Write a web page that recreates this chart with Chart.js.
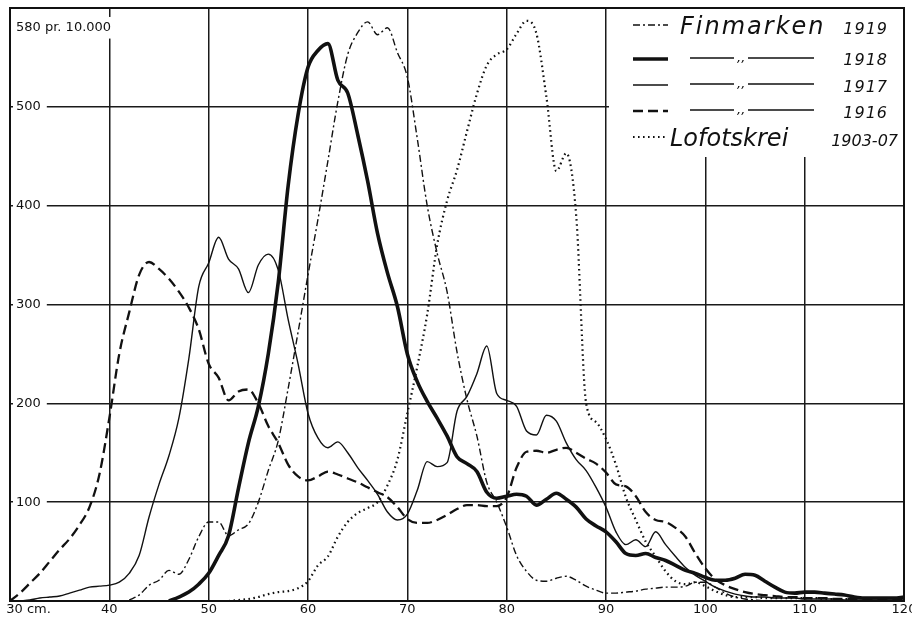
<!DOCTYPE html>
<html>
<head>
<meta charset="utf-8">
<title>Finmarken 1916-1919 / Lofotskrei 1903-07</title>
<script src="https://cdn.jsdelivr.net/npm/chart.js@4.4.1/dist/chart.umd.min.js"></script>
<style>
  body { margin: 0; background: #fff; }
  canvas { display: block; }
</style>
</head>
<body>
<canvas id="chart" width="912" height="620"></canvas>
<script>
// length in cm (x axis)
const lengths = [
  30, 31, 32, 33, 34, 35, 36, 37, 38, 39,
  40, 41, 42, 43, 44, 45, 46, 47, 48, 49,
  50, 51, 52, 53, 54, 55, 56, 57, 58, 59,
  60, 61, 62, 63, 64, 65, 66, 67, 68, 69,
  70, 71, 72, 73, 74, 75, 76, 77, 78, 79,
  80, 81, 82, 83, 84, 85, 86, 87, 88, 89,
  90, 91, 92, 93, 94, 95, 96, 97, 98, 99,
  100, 101, 102, 103, 104, 105, 106, 107, 108, 109,
  110, 111, 112, 113, 114, 115, 116, 117, 118, 119,
  120
];

// per 10.000 fish
const finmarken1919 = [
  null, null, null, null, null, null, null, null, null, null,
  null, null, 1, 6, 16, 21, 31, 27, 42, 65,
  80, 80, 66, 72, 78, 100, 132, 162, 215, 272,
  330, 386, 445, 505, 553, 575, 586, 573, 580, 555,
  530, 468, 400, 352, 313, 252, 204, 167, 120, 100,
  75, 46, 30, 21, 20, 23, 25, 21, 15, 11,
  8, 8, 9, 10, 12, 13, 14, 14, 15, 19,
  19, 14, 8, 4, 2, 1, 0, null, null, null,
  null, null, null, null, null, null, null, null, null, null,
  null
];

const finmarken1918 = [
  null, null, null, null, null, null, null, null, null, null,
  null, null, null, null, null, null, 0, 4, 9, 17,
  28, 46, 66, 114, 160, 197, 250, 322, 420, 492,
  540, 557, 564, 527, 514, 472, 425, 372, 332, 298,
  250, 222, 202, 185, 167, 146, 139, 131, 110, 104,
  106, 108, 106, 97, 103, 109, 103, 95, 83, 76,
  70, 60, 48, 46, 48, 44, 41, 36, 31, 28,
  24, 21, 21, 23, 27, 26, 20, 14, 9, 8,
  9, 9, 8, 7, 6, 4, 3, 3, 3, 3,
  4
];

const finmarken1917 = [
  null, 0, 1, 3, 4, 5, 8, 11, 14, 15,
  16, 19, 28, 46, 85, 118, 147, 185, 245, 318,
  342, 368, 346, 336, 312, 340, 351, 335, 285, 240,
  190, 165, 155, 161, 150, 135, 122, 108, 90, 82,
  88, 112, 141, 136, 140, 192, 207, 230, 258, 210,
  203, 197, 172, 168, 188, 182, 160, 143, 132, 115,
  95, 70, 57, 62, 55, 70, 57, 45, 34, 26,
  20, 14, 10, 7, 5, 4, 4, 3, 3, 3,
  2, 2, 2, 2, 1, 1, 1, 1, 1, 1,
  1
];

const finmarken1916 = [
  0, 8, 18, 28, 40, 52, 63, 77, 95, 128,
  185, 250, 292, 330, 343, 336, 326, 313, 297, 275,
  240, 226, 203, 212, 214, 200, 177, 160, 138, 126,
  122, 126, 131, 128, 124, 120, 115, 110, 105, 95,
  83, 79, 79, 82, 87, 93, 97, 97, 96, 96,
  105, 135, 151, 152, 150, 153, 155, 150, 144, 139,
  130, 118, 116, 106, 90, 82, 80, 74, 65, 48,
  33, 22, 16, 12, 9, 7, 6, 5, 4, 4,
  3, 3, 3, 2, 2, 2, 2, 1, 1, 1,
  1
];

const lofotskrei = [
  null, null, null, null, null, null, null, null, null, null,
  null, null, null, null, null, null, null, null, null, null,
  null, null, 0, 1, 2, 4, 7, 9, 10, 13,
  20, 36, 45, 65, 80, 89, 94, 100, 117, 143,
  190, 237, 290, 360, 405, 436, 475, 513, 542, 553,
  558, 574, 587, 574, 510, 435, 453, 390, 200, 181,
  164, 138, 105, 82, 60, 45, 30, 20, 17, 19,
  15, 10, 6, 4, 4, 4, 3, 3, 3, 3,
  3, 3, 2, 2, 2, 2, null, null, null, null,
  null
];

const legendNames = ['Finmarken', ',,', ',,', ',,', 'Lofotskrei'];
const legendYears = ['1919', '1918', '1917', '1916', '1903-07'];

const yTickValues = [100, 200, 300, 400, 500, 580];
const yTickLabels = ['100', '200', '300', '400', '500', '580 pr. 10.000'];

function toPoints(values) {
  return lengths
    .map((x, i) => ({ x: x, y: values[i] }))
    .filter(p => p.y !== null);
}

Chart.defaults.font.family = 'DejaVu Sans';
Chart.defaults.color = '#111';

const paperLegend = {
  id: 'paperLegend',
  afterDatasetsDraw(chart) {
    const ctx = chart.ctx;
    const area = chart.chartArea;
    const lineY = [25, 59, 85, 111, 137];
    const baseY = [34, 65, 92, 118, 146];

    ctx.save();
    ctx.fillStyle = '#fff';
    ctx.fillRect(609, area.top + 1, area.right - 610, 148);

    chart.data.datasets.forEach((ds, i) => {
      ctx.strokeStyle = ds.borderColor;
      ctx.lineWidth = ds.borderWidth;
      ctx.setLineDash(ds.borderDash || []);
      ctx.beginPath();
      ctx.moveTo(633, lineY[i]);
      ctx.lineTo(668, lineY[i]);
      ctx.stroke();

      ctx.fillStyle = '#111';
      ctx.textBaseline = 'alphabetic';
      if (legendNames[i] === ',,') {
        // ditto row
        ctx.setLineDash([]);
        ctx.lineWidth = 1.3;
        ctx.beginPath();
        ctx.moveTo(690, lineY[i] - 1);
        ctx.lineTo(734, lineY[i] - 1);
        ctx.moveTo(748, lineY[i] - 1);
        ctx.lineTo(814, lineY[i] - 1);
        ctx.stroke();
        ctx.font = 'italic 13px "DejaVu Sans"';
        ctx.textAlign = 'left';
        ctx.letterSpacing = '0px';
        ctx.fillText(legendNames[i], 737, lineY[i] + 3);
      } else {
        ctx.font = 'italic 24px "DejaVu Sans"';
        ctx.textAlign = 'left';
        ctx.letterSpacing = i === 0 ? '2px' : '0px';
        ctx.fillText(legendNames[i], i === 0 ? 680 : 670, baseY[i]);
      }
      ctx.font = 'italic 16px "DejaVu Sans"';
      ctx.textAlign = 'right';
      ctx.letterSpacing = i === 4 ? '0px' : '1px';
      ctx.fillText(legendYears[i], i === 4 ? 898 : 888, baseY[i]);
    });
    ctx.restore();
  },
  afterDraw(chart) {
    const ctx = chart.ctx;
    const a = chart.chartArea;
    ctx.save();
    ctx.strokeStyle = '#111';
    ctx.lineWidth = 2;
    ctx.strokeRect(a.left, a.top, a.right - a.left, a.bottom - a.top);
    ctx.restore();
  }
};

const ctx = document.getElementById('chart').getContext('2d');
new Chart(ctx, {
  type: 'line',
  data: {
    datasets: [
      {
        label: 'Finmarken 1919',
        data: toPoints(finmarken1919),
        borderColor: '#111',
        borderWidth: 1.4,
        borderDash: [7, 3, 2, 3]
      },
      {
        label: 'Finmarken 1918',
        data: toPoints(finmarken1918),
        borderColor: '#111',
        borderWidth: 3.6
      },
      {
        label: 'Finmarken 1917',
        data: toPoints(finmarken1917),
        borderColor: '#111',
        borderWidth: 1.4
      },
      {
        label: 'Finmarken 1916',
        data: toPoints(finmarken1916),
        borderColor: '#111',
        borderWidth: 2.3,
        borderDash: [10, 5]
      },
      {
        label: 'Lofotskrei 1903-07',
        data: toPoints(lofotskrei),
        borderColor: '#111',
        borderWidth: 2.2,
        borderDash: [1.6, 3.4]
      }
    ]
  },
  options: {
    responsive: false,
    animation: false,
    devicePixelRatio: 1,
    elements: {
      point: { radius: 0 },
      line: { cubicInterpolationMode: 'monotone', fill: false }
    },
    layout: { padding: { left: 10, right: 8, top: 8, bottom: 0 } },
    plugins: {
      legend: { display: false },
      tooltip: { enabled: false }
    },
    scales: {
      x: {
        type: 'linear',
        min: 30,
        max: 120,
        border: { display: false },
        grid: { color: '#1a1a1a', lineWidth: 1.5, drawTicks: false },
        ticks: {
          stepSize: 10,
          padding: 1,
          maxRotation: 0,
          autoSkip: false,
          font: { size: 13 },
          callback: v => v === 30 ? '         30 cm.' : String(v)
        },
        afterFit(scale) {
          scale.height = 19;
          scale.paddingLeft = 0;
          scale.paddingRight = 0;
        }
      },
      y: {
        min: 0,
        max: 600,
        border: { display: false },
        grid: {
          drawTicks: false,
          lineWidth: 1.5,
          color: c => (c.tick && c.tick.value === 580) ? 'rgba(0,0,0,0)' : '#1a1a1a'
        },
        afterBuildTicks(scale) {
          scale.ticks = yTickValues.map(v => ({ value: v }));
        },
        ticks: {
          mirror: true,
          padding: 6,
          font: { size: 13 },
          showLabelBackdrop: true,
          backdropColor: '#fff',
          backdropPadding: { top: 3, bottom: 3, left: 3, right: 6 },
          callback: (v, i) => yTickLabels[i]
        },
        afterFit(scale) {
          scale.width = 0;
          scale.paddingTop = 0;
          scale.paddingBottom = 0;
        }
      }
    }
  },
  plugins: [paperLegend]
});
</script>
</body>
</html>
